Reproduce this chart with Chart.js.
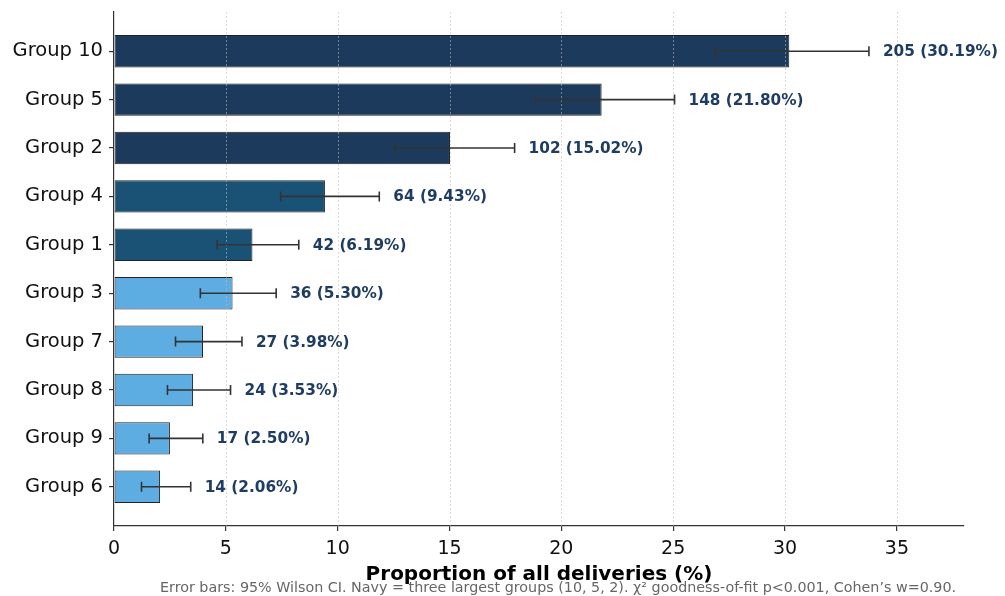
<!DOCTYPE html>
<html>
<head>
<meta charset="utf-8">
<title>Proportion of all deliveries</title>
<script src="https://cdn.jsdelivr.net/npm/chart.js@4"></script>
<style>
  html, body { margin: 0; padding: 0; background: #fff; }
  #wrap { width: 1005px; height: 596px; }
</style>
</head>
<body>
<div id="wrap"><canvas id="deliveryChart" width="1005" height="596"></canvas></div>
<script>
// values
const categories = ['Group 10', 'Group 5', 'Group 2', 'Group 4', 'Group 1', 'Group 3', 'Group 7', 'Group 8', 'Group 9', 'Group 6'];
const counts = [205, 148, 102, 64, 42, 36, 27, 24, 17, 14];
const shares = [30.19, 21.80, 15.02, 9.43, 6.19, 5.30, 3.98, 3.53, 2.50, 2.06];
const ciLow = [26.86, 18.86, 12.53, 7.45, 4.61, 3.86, 2.75, 2.39, 1.57, 1.23];
const ciHigh = [33.75, 25.06, 17.91, 11.86, 8.26, 7.25, 5.72, 5.21, 3.97, 3.43];
const xTicks = [0, 5, 10, 15, 20, 25, 30, 35];

const FONT = "'DejaVu Sans', sans-serif";
const NAVY = '#1b3a5c';
const MID = '#1a5276';
const LIGHT = '#5dade2';
const footnote = 'Error bars: 95% Wilson CI. Navy = three largest groups (10, 5, 2). \u03c7\u00b2 goodness-of-fit p<0.001, Cohen\u2019s w=0.90.';

function barColor(i) {
  if (i < 3) return NAVY;
  if (i < 5) return MID;
  return LIGHT;
}

// dotted grid over the bars, then error bars, then value labels
const overlay = {
  id: 'overlay',
  afterDatasetsDraw(chart) {
    const { ctx, chartArea, scales: { x, y } } = chart;
    ctx.save();
    ctx.strokeStyle = 'rgba(190,190,190,0.7)';
    ctx.lineWidth = 0.8;
    ctx.setLineDash([2, 2]);
    xTicks.forEach(v => {
      if (v === 0) return;
      const px = Math.round(x.getPixelForValue(v)) + 0.5;
      ctx.beginPath();
      ctx.moveTo(px, chartArea.top);
      ctx.lineTo(px, chartArea.bottom);
      ctx.stroke();
    });
    ctx.setLineDash([]);

    ctx.strokeStyle = '#333';
    ctx.lineWidth = 1.6;
    categories.forEach((c, i) => {
      const py = y.getPixelForValue(i);
      const x0 = x.getPixelForValue(ciLow[i]);
      const x1 = x.getPixelForValue(ciHigh[i]);
      ctx.beginPath();
      ctx.moveTo(x0, py); ctx.lineTo(x1, py);
      ctx.moveTo(x0, py - 5); ctx.lineTo(x0, py + 5);
      ctx.moveTo(x1, py - 5); ctx.lineTo(x1, py + 5);
      ctx.stroke();
    });

    ctx.fillStyle = '#1f3d63';
    ctx.font = 'bold 15.3px ' + FONT;
    ctx.textAlign = 'left';
    ctx.textBaseline = 'middle';
    categories.forEach((c, i) => {
      const py = y.getPixelForValue(i);
      const px = x.getPixelForValue(ciHigh[i]) + 14;
      ctx.fillText(counts[i] + ' (' + shares[i].toFixed(2) + '%)', px, py + 1);
    });

    ctx.fillStyle = '#666';
    ctx.font = '14.3px ' + FONT;
    ctx.textAlign = 'center';
    ctx.fillText(footnote, 558, 588);
    ctx.restore();
  }
};

new Chart(document.getElementById('deliveryChart'), {
  type: 'bar',
  data: {
    datasets: [{
      data: shares.map((v, i) => ({ x: v, y: i })),
      backgroundColor: categories.map((c, i) => barColor(i)),
      borderColor: '#222',
      borderWidth: 1,
      borderSkipped: false,
      barPercentage: 0.67,
      categoryPercentage: 1
    }]
  },
  options: {
    indexAxis: 'y',
    responsive: false,
    animation: false,
    layout: { padding: { top: 12, right: 41, left: 0, bottom: 0 } },
    plugins: {
      legend: { display: false },
      tooltip: { enabled: false }
    },
    scales: {
      x: {
        type: 'linear',
        min: 0,
        max: 38,
        afterFit(scale) { scale.height = 70; scale.paddingLeft = 0; scale.paddingRight = 0; },
        afterBuildTicks(scale) { scale.ticks = xTicks.map(v => ({ value: v })); },
        ticks: { color: '#111', font: { family: FONT, size: 19 }, padding: 7 },
        grid: { drawOnChartArea: false, drawTicks: true, tickLength: 5, color: '#333', lineWidth: 1.2 },
        border: { display: true, color: '#333', width: 1.2 },
        title: {
          display: true,
          text: 'Proportion of all deliveries (%)',
          color: '#000',
          font: { family: FONT, size: 20, weight: 'bold' },
          padding: { top: 0, bottom: 9 }
        }
      },
      y: {
        type: 'linear',
        reverse: true,
        offset: false,
        min: -0.81,
        max: 9.81,
        afterFit(scale) { scale.width = 114; scale.paddingTop = 0; scale.paddingBottom = 0; },
        afterBuildTicks(scale) { scale.ticks = categories.map((c, i) => ({ value: i })); },
        ticks: {
          color: '#111',
          font: { family: FONT, size: 19.5 },
          padding: 6,
          callback: v => categories[v]
        },
        grid: { offset: false, drawOnChartArea: false, drawTicks: true, tickLength: 5, color: '#333', lineWidth: 1.2 },
        border: { display: true, color: '#333', width: 1.2 }
      }
    }
  },
  plugins: [overlay]
});
</script>
</body>
</html>
